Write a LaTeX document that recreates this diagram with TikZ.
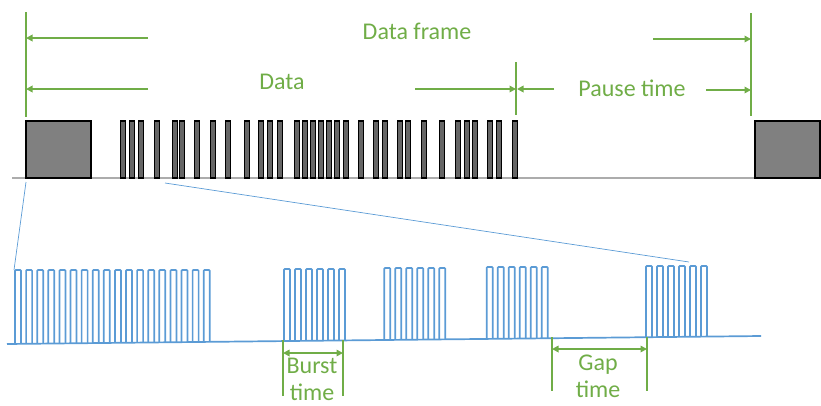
\documentclass[tikz,border=0pt]{standalone}
\usepackage{fontspec}
\setmainfont{Carlito}
\usetikzlibrary{arrows.meta}
\definecolor{fgreen}{HTML}{70AD47}
\definecolor{fblue}{HTML}{5B9BD5}
\begin{document}
\begin{tikzpicture}[x=1pt,y=-1pt,
  dimline/.style={draw=fgreen, line width=2pt},
  dimarrow/.style={dimline, -{Triangle[length=6.5pt,width=6.5pt]}},
  dimboth/.style={dimline, {Triangle[length=6.5pt,width=6.5pt]}-{Triangle[length=6.5pt,width=6.5pt]}},
  lbl/.style={text=fgreen, font=\fontsize{24}{27}\selectfont, inner sep=0pt, align=center},
  blockbox/.style={draw=black, line width=1.3pt, fill=black!50},
  pulse/.style={draw=black, line width=1.5pt, fill=black!60},
  sig/.style={draw=fblue, line width=1.7pt, rounded corners=0.8pt},
  zoomline/.style={draw=fblue, line width=0.7pt}]
\useasboundingbox (0,0) rectangle (821,405);
\clip (0,0) rectangle (821,405);

% top baseline and blocks
\coordinate (tb1) at (12,178);
\coordinate (tb2) at (821,178);
\draw[gray!65, line width=2pt] (tb1) -- (tb2);
\draw[blockbox] (26,121) rectangle (91,178);
\draw[blockbox] (755,121) rectangle (820,178);
\foreach \x in {123,132,141,157,175,182,197,213,228,247,261,270,280,297,305,313,321,329,337,346,361,376,385,400,408,424,442,458,467,475,490,499,515}
  \draw[pulse] (\x-2.6,121) rectangle (\x+2.6,178);

% green dimension lines (top)
\coordinate (L1) at (26,12);  \coordinate (L2) at (26,117);
\coordinate (M1) at (516,62); \coordinate (M2) at (516,115);
\coordinate (R1) at (751,13); \coordinate (R2) at (751,116);
\draw[dimline] (L1) -- (L2);
\draw[dimline] (M1) -- (M2);
\draw[dimline] (R1) -- (R2);

\coordinate (fa1) at (148,38);  \coordinate (fa1e) at (26,38);
\coordinate (fa2) at (653,39);  \coordinate (fa2e) at (751,39);
\coordinate (da1) at (148,89);  \coordinate (da1e) at (26,89);
\coordinate (da2) at (415,89);  \coordinate (da2e) at (516,89);
\coordinate (pa1) at (554,89);  \coordinate (pa1e) at (517,89);
\coordinate (pa2) at (706,90);  \coordinate (pa2e) at (751,90);
\draw[dimarrow] (fa1) -- (fa1e);
\draw[dimarrow] (fa2) -- (fa2e);
\draw[dimarrow] (da1) -- (da1e);
\draw[dimarrow] (da2) -- (da2e);
\draw[dimarrow] (pa1) -- (pa1e);
\draw[dimarrow] (pa2) -- (pa2e);

\node[lbl] (frame) at (417,31) {Data frame};
\node[lbl] (data) at (282,82) {Data};
\node[lbl] (pause) at (632,88) {Pause time};

% zoom lines
\coordinate (z1a) at (26,182);  \coordinate (z1b) at (14,270);
\coordinate (z2a) at (165,183); \coordinate (z2b) at (689,262);
\draw[zoomline] (z1a) -- (z1b);
\draw[zoomline] (z2a) -- (z2b);

% blue signal
\coordinate (bb1) at (7,344);
\coordinate (bb2) at (761,336);
\draw[sig] (bb1) -- (bb2);
\foreach \i in {0,...,17}{
  \pgfmathsetmacro{\x}{15+11.1*\i}
  \pgfmathsetmacro{\b}{344-(\x-7)*8/754}
  \draw[sig] (\x,\b) -- (\x,270) -- (\x+6,270) -- (\x+6,\b);
}
\foreach \s/\t in {284/269,384.3/268,486.7/267,646/266}{
  \foreach \i in {0,...,5}{
    \pgfmathsetmacro{\x}{\s+11*\i}
    \pgfmathsetmacro{\b}{344-(\x-7)*8/754}
    \draw[sig] (\x,\b) -- (\x,\t) -- (\x+6,\t) -- (\x+6,\b);
  }
}

% burst time
\coordinate (bt1) at (283,340); \coordinate (bt2) at (283,396);
\coordinate (bt3) at (343,340); \coordinate (bt4) at (343,396);
\draw[dimline] (bt1) -- (bt2);
\draw[dimline] (bt3) -- (bt4);
\coordinate (ba1) at (283,353); \coordinate (ba2) at (343,353);
\draw[dimboth] (ba1) -- (ba2);
\node[lbl] (burst) at (312,379) {Burst\\time};

% gap time
\coordinate (gt1) at (552,337); \coordinate (gt2) at (552,391);
\coordinate (gt3) at (647,337); \coordinate (gt4) at (647,391);
\draw[dimline] (gt1) -- (gt2);
\draw[dimline] (gt3) -- (gt4);
\coordinate (ga1) at (552,349); \coordinate (ga2) at (647,349);
\draw[dimboth] (ga1) -- (ga2);
\node[lbl] (gap) at (598,376) {Gap\\time};
\end{tikzpicture}
\end{document}
